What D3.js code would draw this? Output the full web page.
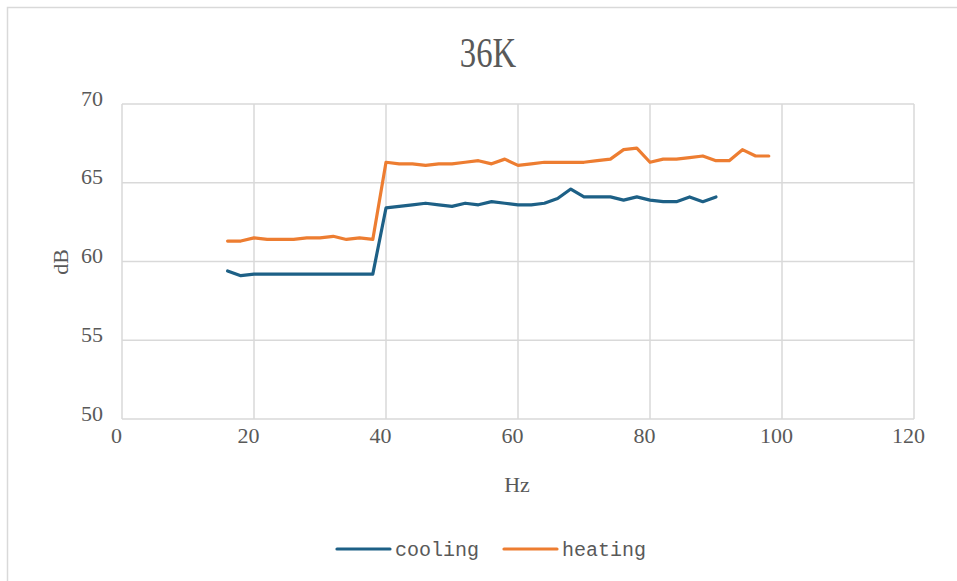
<!DOCTYPE html>
<html><head><meta charset="utf-8">
<script src="https://cdn.jsdelivr.net/npm/d3@7"></script>
<style>body{margin:0;background:#fff}svg{display:block}</style>
</head><body>
<svg id="c" width="957" height="581"></svg>
<script>
const title = "36K";
const xLabel = "Hz";
const yLabel = "dB";
const xTicks = [0, 20, 40, 60, 80, 100, 120];
const yTicks = [50, 55, 60, 65, 70];
const seriesNames = ["cooling", "heating"];
const seriesColors = ["#1d6086", "#ed7d31"];
const coolingHz = [16,18,20,22,24,26,28,30,32,34,36,38,40,42,44,46,48,50,52,54,56,58,60,62,64,66,68,70,72,74,76,78,80,82,84,86,88,90];
const coolingDb = [59.4,59.1,59.2,59.2,59.2,59.2,59.2,59.2,59.2,59.2,59.2,59.2,
  63.4,63.5,63.6,63.7,63.6,63.5,63.7,63.6,63.8,63.7,63.6,63.6,63.7,64.0,64.6,64.1,64.1,64.1,63.9,64.1,63.9,63.8,63.8,64.1,63.8,64.1];
const heatingHz = [16,18,20,22,24,26,28,30,32,34,36,38,40,42,44,46,48,50,52,54,56,58,60,62,64,66,68,70,72,74,76,78,80,82,84,86,88,90,92,94,96,98];
const heatingDb = [61.3,61.3,61.5,61.4,61.4,61.4,61.5,61.5,61.6,61.4,61.5,61.4,
  66.3,66.2,66.2,66.1,66.2,66.2,66.3,66.4,66.2,66.5,66.1,66.2,66.3,66.3,66.3,66.3,66.4,66.5,67.1,67.2,66.3,66.5,66.5,66.6,66.7,66.4,66.4,67.1,66.7,66.7];

const svg = d3.select("#c");
const L = 122, R = 914, T = 104, B = 419;
const x = d3.scaleLinear().domain([0,120]).range([L,R]);
const y = d3.scaleLinear().domain([50,70]).range([B,T]);
const grid = "#d9d9d9", txt = "#595959";

// outer border
svg.append("rect").attr("x",7.5).attr("y",7.5).attr("width",1000).attr("height",1000)
  .attr("fill","none").attr("stroke",grid).attr("stroke-width",1.5);

// title
svg.append("text").attr("transform",`translate(488,67) scale(0.78,1)`)
  .attr("text-anchor","middle").attr("font-family","Liberation Serif").attr("font-size",42)
  .attr("fill",txt).text(title);

// gridlines
svg.append("g").selectAll("line").data(yTicks).join("line")
  .attr("x1",L).attr("x2",R).attr("y1",d=>y(d)).attr("y2",d=>y(d))
  .attr("stroke",grid).attr("stroke-width",1.5);
svg.append("g").selectAll("line").data(xTicks).join("line")
  .attr("x1",d=>x(d)).attr("x2",d=>x(d)).attr("y1",T).attr("y2",B)
  .attr("stroke",grid).attr("stroke-width",1.5);

// axes (labels only)
const fontTick = "Liberation Serif";
const xAxis = svg.append("g").attr("transform",`translate(-6,${B})`)
  .call(d3.axisBottom(x).tickValues(xTicks).tickSize(0).tickPadding(0));
xAxis.select(".domain").remove();
xAxis.selectAll("text").attr("font-family",fontTick).attr("font-size",22).attr("fill",txt).attr("dy","1.1em");
const yAxis = svg.append("g").attr("transform",`translate(${L},0)`)
  .call(d3.axisLeft(y).tickValues(yTicks).tickSize(0).tickPadding(19));
yAxis.select(".domain").remove();
yAxis.selectAll("text").attr("font-family",fontTick).attr("font-size",22).attr("fill",txt).attr("dy","0.05em");

svg.append("text").attr("x",517).attr("y",492).attr("text-anchor","middle")
  .attr("font-family",fontTick).attr("font-size",22).attr("fill",txt).text(xLabel);
svg.append("text").attr("transform","translate(68,262) rotate(-90)").attr("text-anchor","middle")
  .attr("font-family",fontTick).attr("font-size",22).attr("fill",txt).text(yLabel);

// lines
const line = d3.line().x(d=>x(d[0])).y(d=>y(d[1]));
const series = [d3.zip(coolingHz,coolingDb), d3.zip(heatingHz,heatingDb)];
svg.append("g").selectAll("path").data(series).join("path")
  .attr("d",line).attr("fill","none").attr("stroke",(d,i)=>seriesColors[i])
  .attr("stroke-width",3.2).attr("stroke-linejoin","round").attr("stroke-linecap","round");

// legend
const legX = [337, 504];
const lg = svg.append("g").selectAll("g").data(seriesNames).join("g")
  .attr("transform",(d,i)=>`translate(${legX[i]},549)`);
lg.append("line").attr("x1",0).attr("x2",53).attr("stroke",(d,i)=>seriesColors[i])
  .attr("stroke-width",3.2).attr("stroke-linecap","round");
lg.append("text").attr("x",58).attr("y",7).attr("font-family","Liberation Mono")
  .attr("font-size",20).attr("fill",txt).text(d=>d);
</script>
</body></html>
